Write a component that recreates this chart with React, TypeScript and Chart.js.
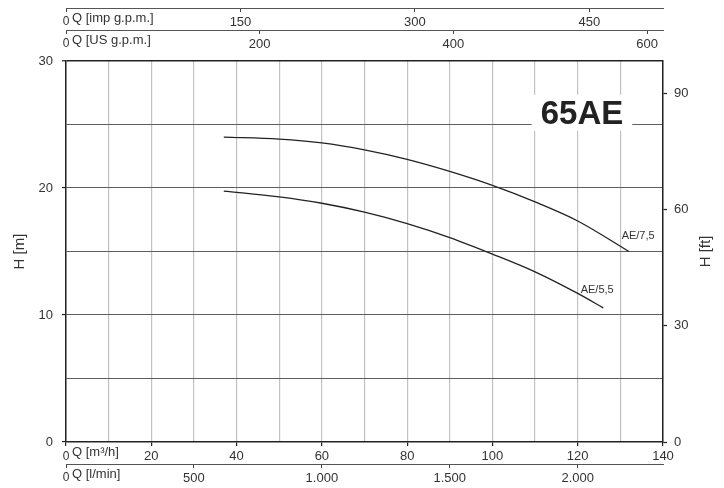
import React, { useEffect, useRef } from "react";
import { Chart, registerables } from "chart.js";

Chart.register(...registerables);

// ---------------- data ----------------
const flowAE75 = [37, 50, 60, 70, 80, 90, 100, 110, 120, 132]; // m3/h
const headAE75 = [24.0, 23.85, 23.55, 23.0, 22.25, 21.3, 20.2, 18.9, 17.4, 15.0]; // m
const flowAE55 = [37, 50, 60, 70, 80, 90, 100, 110, 120, 126]; // m3/h
const headAE55 = [19.76, 19.3, 18.8, 18.1, 17.2, 16.1, 14.8, 13.4, 11.7, 10.56]; // m
const seriesLabels = ["AE/7,5", "AE/5,5"];
const modelLabel = "65AE";

// axis ranges and ticks
const qMin = 0;
const qMax = 140; // m3/h
const hMin = 0;
const hMax = 30; // m
const m3hTicks = [0, 10, 20, 30, 40, 50, 60, 70, 80, 90, 100, 110, 120, 130, 140];
const m3hLabelled = [0, 20, 40, 60, 80, 100, 120, 140];
const mTicks = [0, 5, 10, 15, 20, 25, 30];
const mLabelled = [0, 10, 20, 30];
const ftTicks = [0, 30, 60, 90];
const impTicks = [0, 150, 300, 450];
const usTicks = [0, 200, 400, 600];
const lminTicks = [0, 500, 1000, 1500, 2000];

const titleM3h = "Q [m³/h]";
const titleLmin = "Q [l/min]";
const titleImp = "Q [imp g.p.m.]";
const titleUs = "Q [US g.p.m.]";
const titleHm = "H [m]";
const titleHft = "H [ft]";

// unit conversions
const IMP_PER_M3H = 3.66619;
const US_PER_M3H = 4.40287;
const LMIN_PER_M3H = 1000 / 60;
const FT_PER_M = 3.28084;

// annotation anchors in data units (m3/h, m)
const seriesLabelQ = [130.3, 120.7];
const seriesLabelH = [16.2, 12.0];
const modelLabelQ = 121;
const modelLabelH = 26;

// ---------------- layout / style ----------------
const FONT = "'Liberation Sans', Arial, Helvetica, sans-serif";
const TEXT = "#333";
const DARK = "#222";
const IMP_AXIS_AT = 34.16; // in H [m] units, above plot
const US_AXIS_AT = 32.39;
const LMIN_AXIS_AT = -1.76;

const fmtThousands = (v: number) =>
  v >= 1000 ? `${Math.floor(v / 1000)}.${String(v % 1000).padStart(3, "0")}` : String(v);

const setTicks = (arr: number[]) => (s: any) => {
  s.ticks = arr.map((v) => ({ value: v }));
};

const secondaryX = (
  max: number,
  at: number,
  ticks: number[],
  fmt: (v: number) => string
) => ({
  type: "linear",
  axis: "x",
  position: { y: at },
  min: 0,
  max,
  afterBuildTicks: setTicks(ticks),
  grid: {
    drawOnChartArea: false,
    drawTicks: true,
    tickLength: 3,
    tickColor: "#444",
    tickWidth: 1,
  },
  border: { display: true, color: "#555", width: 1 },
  ticks: {
    autoSkip: false,
    maxRotation: 0,
    padding: 3,
    color: TEXT,
    font: (c: any) => ({ family: FONT, size: c.tick && c.tick.value === 0 ? 12 : 13 }),
    callback: (v: any) => fmt(Number(v)),
  },
});

const overlay = {
  id: "overlay",
  beforeDatasetsDraw(chart: any) {
    const { ctx } = chart;
    const xs = chart.scales.x;
    const ys = chart.scales.y;
    ctx.save();
    ctx.font = `bold 33px ${FONT}`;
    const w = ctx.measureText(modelLabel).width;
    const cx = xs.getPixelForValue(modelLabelQ);
    const cy = ys.getPixelForValue(modelLabelH);
    ctx.fillStyle = "#fff";
    ctx.fillRect(cx - w / 2 - 9, cy - 17, w + 18, 36);
    ctx.fillStyle = DARK;
    ctx.textAlign = "center";
    ctx.textBaseline = "middle";
    ctx.fillText(modelLabel, cx, cy + 3);
    ctx.restore();
  },
  afterDraw(chart: any) {
    const { ctx, chartArea } = chart;
    const xs = chart.scales.x;
    const ys = chart.scales.y;
    ctx.save();
    // curve labels
    ctx.font = `11px ${FONT}`;
    ctx.fillStyle = TEXT;
    ctx.textAlign = "left";
    ctx.textBaseline = "middle";
    seriesLabels.forEach((t, i) => {
      ctx.fillText(t, xs.getPixelForValue(seriesLabelQ[i]), ys.getPixelForValue(seriesLabelH[i]));
    });
    // flow-axis titles next to the "0" tick
    ctx.font = `13px ${FONT}`;
    const rows: [number, string][] = [
      [ys.getPixelForValue(IMP_AXIS_AT), titleImp],
      [ys.getPixelForValue(US_AXIS_AT), titleUs],
      [chartArea.bottom, titleM3h],
      [ys.getPixelForValue(LMIN_AXIS_AT), titleLmin],
    ];
    rows.forEach(([y, t]) => {
      ctx.fillText(t, chartArea.left + 6, y + 10);
    });
    // right title, reading bottom to top
    const ft = chart.scales.yft;
    ctx.font = `15px ${FONT}`;
    ctx.textAlign = "center";
    ctx.translate(ft.right - 18, (chartArea.top + chartArea.bottom) / 2);
    ctx.rotate(-Math.PI / 2);
    ctx.fillText(titleHft, 0, 0);
    ctx.restore();
  },
};

export default function App() {
  const ref = useRef<HTMLCanvasElement | null>(null);

  useEffect(() => {
    if (!ref.current) return;
    Chart.defaults.font.family = FONT;
    Chart.defaults.color = TEXT;
    const chart = new Chart(ref.current, {
      type: "line",
      data: {
        datasets: [
          {
            label: seriesLabels[0],
            data: flowAE75.map((q, i) => ({ x: q, y: headAE75[i] })),
            borderColor: DARK,
            borderWidth: 1.3,
            pointRadius: 0,
            fill: false,
            cubicInterpolationMode: "monotone",
          },
          {
            label: seriesLabels[1],
            data: flowAE55.map((q, i) => ({ x: q, y: headAE55[i] })),
            borderColor: DARK,
            borderWidth: 1.3,
            pointRadius: 0,
            fill: false,
            cubicInterpolationMode: "monotone",
          },
        ],
      },
      options: {
        animation: false,
        responsive: true,
        maintainAspectRatio: false,
        layout: { padding: { top: 61, left: 0, right: 0, bottom: 0 } },
        plugins: {
          legend: { display: false },
          tooltip: { enabled: false },
        },
        scales: {
          x: {
            type: "linear",
            position: "bottom",
            min: qMin,
            max: qMax,
            afterBuildTicks: setTicks(m3hTicks),
            afterFit: (s: any) => {
              s.height = 46;
            },
            grid: {
              color: "#c2c2c2",
              lineWidth: 1.2,
              tickLength: 4,
              tickWidth: 1.2,
              tickColor: (c: any) =>
                c.tick && m3hLabelled.includes(c.tick.value) ? DARK : "rgba(0,0,0,0)",
            },
            border: { display: true, color: DARK, width: 1.5 },
            ticks: {
              autoSkip: false,
              maxRotation: 0,
              padding: 3,
              color: TEXT,
              font: (c: any) => ({ family: FONT, size: c.tick && c.tick.value === 0 ? 12 : 13 }),
              callback: (v: any) => (m3hLabelled.includes(Number(v)) ? String(v) : ""),
            },
          },
          xl: secondaryX(qMax * LMIN_PER_M3H, LMIN_AXIS_AT, lminTicks, fmtThousands),
          ximp: secondaryX(qMax * IMP_PER_M3H, IMP_AXIS_AT, impTicks, (v) => String(v)),
          xus: secondaryX(qMax * US_PER_M3H, US_AXIS_AT, usTicks, (v) => String(v)),
          y: {
            type: "linear",
            position: "left",
            min: hMin,
            max: hMax,
            afterBuildTicks: setTicks(mTicks),
            afterFit: (s: any) => {
              s.width = 66;
            },
            grid: {
              color: (c: any) => (c.tick && c.tick.value === hMax ? DARK : "#5e5e5e"),
              lineWidth: (c: any) => (c.tick && c.tick.value === hMax ? 1.5 : 1.1),
              tickLength: 4,
              tickWidth: 1.2,
              tickColor: (c: any) =>
                c.tick && mLabelled.includes(c.tick.value) ? DARK : "rgba(0,0,0,0)",
            },
            border: { display: true, color: DARK, width: 1.5 },
            title: {
              display: true,
              text: titleHm,
              color: TEXT,
              font: { family: FONT, size: 15 },
              padding: { top: 11, bottom: 0 },
            },
            ticks: {
              autoSkip: false,
              padding: 9,
              color: TEXT,
              font: { family: FONT, size: 13 },
              callback: (v: any) => (mLabelled.includes(Number(v)) ? String(v) : ""),
            },
          },
          yft: {
            type: "linear",
            position: "right",
            min: hMin * FT_PER_M,
            max: hMax * FT_PER_M,
            afterBuildTicks: setTicks(ftTicks),
            afterFit: (s: any) => {
              s.width = 61;
            },
            grid: {
              drawOnChartArea: false,
              tickLength: 4,
              tickWidth: 1.2,
              tickColor: DARK,
            },
            border: { display: true, color: DARK, width: 1.5 },
            ticks: {
              autoSkip: false,
              padding: 7,
              color: TEXT,
              font: { family: FONT, size: 13 },
              callback: (v: any) => String(v),
            },
          },
        },
      } as any,
      plugins: [overlay],
    });
    return () => chart.destroy();
  }, []);

  return (
    <div style={{ position: "fixed", left: 0, top: 0, width: 724, height: 488, background: "#fff" }}>
      <canvas ref={ref} />
    </div>
  );
}
